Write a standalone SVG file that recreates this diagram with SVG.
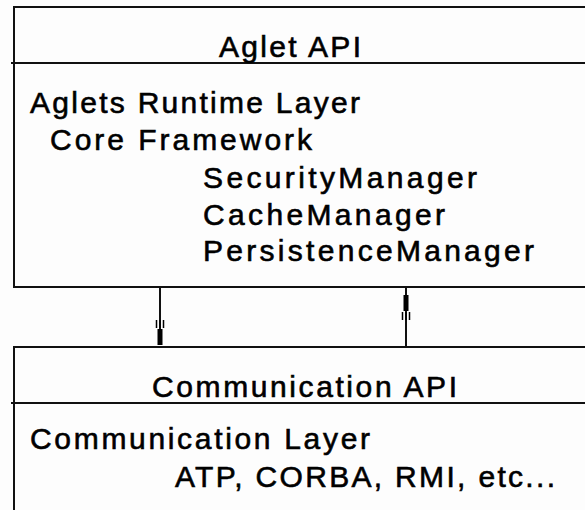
<svg xmlns="http://www.w3.org/2000/svg" xmlns:xlink="http://www.w3.org/1999/xlink" width="585" height="510" viewBox="0 0 585 510">
<style>
.box{fill:none;stroke:#111;stroke-width:2}
.div{stroke:#111;stroke-width:2}
.t{font-family:"Liberation Sans",Arial,sans-serif;font-size:30px;fill:#000;stroke:#000;stroke-width:0.6}
.con{stroke:#111;stroke-width:2;fill:none}
</style>
<defs>
<g id="head">
<rect x="-2.5" y="-16" width="5" height="16" fill="#000"/>
<path d="M-3.5,-25 V-17 M3.5,-25 V-17 M0,-25 V-17" stroke="#000" stroke-width="1.5" fill="none"/>
</g>
</defs>
<rect width="585" height="510" fill="#fdfdfd"/>
<g id="aglet">
<rect class="box" x="14" y="7" width="620" height="280"/>
<line class="div" x1="11" y1="63" x2="585" y2="63"/>
<text class="t" x="219" y="57" textLength="142" lengthAdjust="spacing">Aglet API</text>
<text class="t" x="30" y="113" textLength="330" lengthAdjust="spacing">Aglets Runtime Layer</text>
<text class="t" x="50" y="150" textLength="262" lengthAdjust="spacing">Core Framework</text>
<text class="t" x="203" y="188" textLength="274" lengthAdjust="spacing">SecurityManager</text>
<text class="t" x="203" y="225" textLength="242" lengthAdjust="spacing">CacheManager</text>
<text class="t" x="203" y="261" textLength="331" lengthAdjust="spacing">PersistenceManager</text>
</g>
<g id="communication">
<rect class="box" x="14" y="347" width="620" height="220"/>
<line class="div" x1="11" y1="403" x2="585" y2="403"/>
<text class="t" x="152" y="397" textLength="305" lengthAdjust="spacing">Communication API</text>
<text class="t" x="30" y="449" textLength="340" lengthAdjust="spacing">Communication Layer</text>
<text class="t" x="175" y="487" textLength="380" lengthAdjust="spacing">ATP, CORBA, RMI, etc...</text>
</g>
<g id="connectors">
<line class="con" x1="160" y1="287" x2="160" y2="345"/>
<use xlink:href="#head" transform="translate(160,345)"/>
<line class="con" x1="406" y1="347" x2="406" y2="287"/>
<use xlink:href="#head" transform="translate(406,295) rotate(180)"/>
</g>
</svg>
